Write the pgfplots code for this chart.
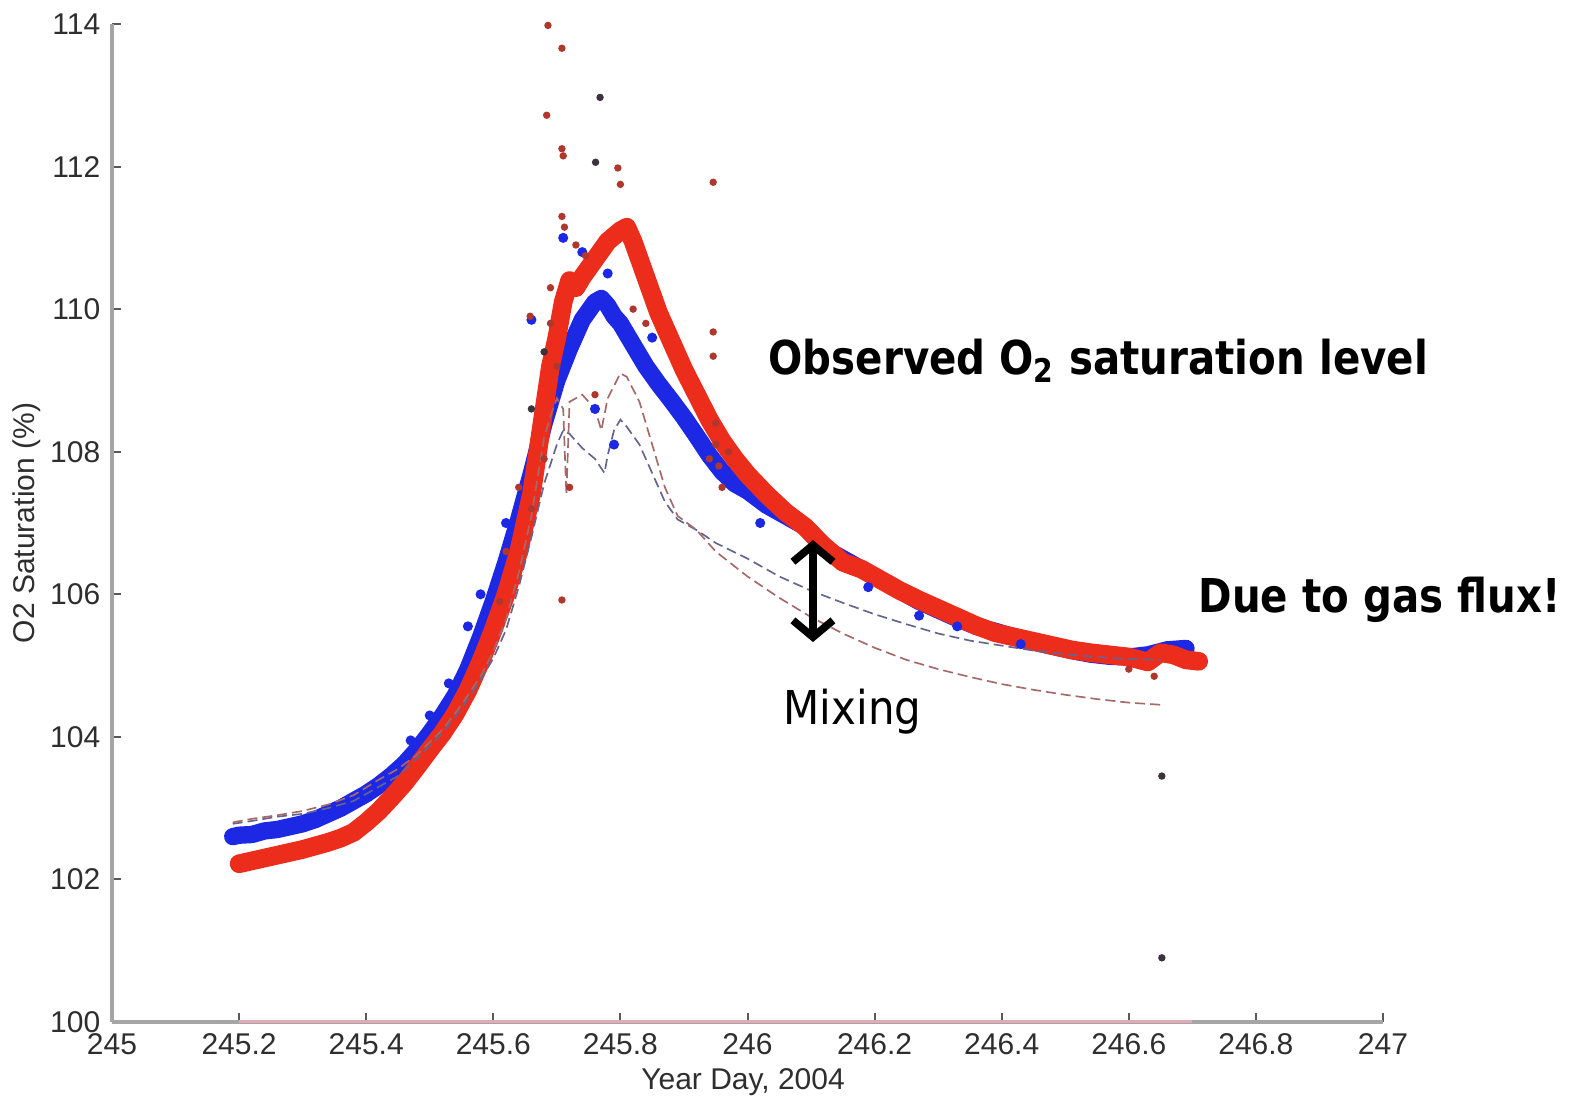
\documentclass[border=0pt]{standalone}
\usepackage{pgfplots}
\pgfplotsset{compat=1.18}
\usepackage{fontspec}
\usepackage{graphicx}
\setmainfont{Liberation Sans}
\newfontfamily\dvs{DejaVu Sans}
\usetikzlibrary{arrows.meta}
\definecolor{obsred}{RGB}{236,45,28}
\definecolor{obsblue}{RGB}{28,40,228}
\definecolor{outred}{RGB}{175,55,45}
\definecolor{outdark}{RGB}{60,50,60}
\definecolor{modblue}{RGB}{100,100,145}
\definecolor{modred}{RGB}{165,105,105}
\definecolor{axgray}{RGB}{165,165,165}

\pgfplotstableread{
x y
245.19 102.60
245.20 102.62
245.22 102.63
245.24 102.68
245.26 102.70
245.28 102.74
245.30 102.78
245.32 102.84
245.34 102.92
245.36 103.00
245.38 103.10
245.40 103.20
245.42 103.32
245.44 103.46
245.46 103.62
245.48 103.82
245.50 104.05
245.52 104.30
245.54 104.58
245.56 104.95
245.58 105.40
245.60 105.90
245.62 106.45
245.64 107.05
245.66 107.70
245.68 108.40
245.70 109.00
245.72 109.45
245.74 109.85
245.76 110.10
245.77 110.15
245.78 110.05
245.79 109.90
245.80 109.80
245.82 109.50
245.84 109.20
245.86 108.95
245.88 108.72
245.90 108.48
245.92 108.22
245.94 107.95
245.96 107.72
245.98 107.55
246.00 107.45
246.03 107.25
246.06 107.10
246.09 106.95
246.12 106.65
246.15 106.50
246.18 106.35
246.21 106.20
246.24 106.05
246.27 105.90
246.30 105.78
246.33 105.66
246.36 105.55
246.39 105.48
246.42 105.40
246.45 105.33
246.48 105.27
246.51 105.21
246.54 105.16
246.57 105.13
246.60 105.12
246.63 105.15
246.66 105.22
246.69 105.24
}\blueobs

\pgfplotstableread{
x y
245.20 102.22
245.22 102.26
245.24 102.30
245.26 102.34
245.28 102.38
245.30 102.42
245.32 102.47
245.34 102.52
245.36 102.58
245.38 102.66
245.40 102.80
245.42 102.96
245.44 103.15
245.46 103.35
245.48 103.58
245.50 103.82
245.52 104.05
245.54 104.32
245.56 104.65
245.58 105.05
245.60 105.50
245.62 106.00
245.64 106.60
245.66 107.40
245.67 108.00
245.68 108.60
245.69 109.20
245.70 109.60
245.71 110.10
245.72 110.40
245.73 110.30
245.74 110.45
245.76 110.70
245.78 110.95
245.80 111.10
245.81 111.15
245.82 110.95
245.83 110.70
245.84 110.45
245.85 110.20
245.86 109.95
245.88 109.55
245.90 109.15
245.92 108.80
245.94 108.45
245.96 108.15
245.98 107.90
246.00 107.68
246.03 107.40
246.06 107.15
246.09 106.95
246.12 106.68
246.15 106.45
246.18 106.35
246.21 106.20
246.24 106.05
246.27 105.92
246.30 105.80
246.33 105.68
246.36 105.56
246.39 105.46
246.42 105.40
246.45 105.34
246.48 105.28
246.51 105.22
246.54 105.18
246.57 105.15
246.60 105.12
246.63 105.05
246.65 105.18
246.67 105.15
246.69 105.08
246.71 105.06
}\redobs

\pgfplotstableread{
x y
245.19 102.78
245.22 102.82
245.26 102.88
245.30 102.92
245.34 103.00
245.38 103.10
245.42 103.30
245.45 103.45
245.48 103.70
245.52 104.05
245.55 104.40
245.58 104.80
245.60 105.10
245.62 105.50
245.64 106.10
245.66 106.80
245.68 107.55
245.70 108.10
245.71 108.30
245.72 108.25
245.74 108.05
245.76 107.90
245.775 107.70
245.78 107.95
245.79 108.30
245.80 108.45
245.81 108.35
245.83 108.10
245.85 107.70
245.87 107.30
245.89 107.05
245.92 106.90
245.95 106.72
246.00 106.50
246.05 106.25
246.10 106.05
246.15 105.88
246.20 105.72
246.25 105.58
246.30 105.45
246.35 105.35
246.40 105.28
246.45 105.21
246.50 105.16
246.55 105.12
246.60 105.09
246.65 105.08
}\bluemod

\pgfplotstableread{
x y
245.19 102.80
245.22 102.85
245.26 102.90
245.30 102.96
245.34 103.05
245.38 103.18
245.42 103.40
245.45 103.55
245.48 103.75
245.52 104.10
245.55 104.45
245.58 104.85
245.60 105.20
245.62 105.65
245.64 106.30
245.66 107.10
245.68 108.20
245.69 108.50
245.70 108.75
245.71 108.60
245.715 107.40
245.72 108.70
245.74 108.80
245.76 108.60
245.77 108.30
245.78 108.75
245.80 109.10
245.81 109.05
245.83 108.70
245.85 108.10
245.87 107.50
245.89 107.10
245.92 106.90
245.95 106.60
246.00 106.25
246.05 105.95
246.10 105.68
246.15 105.45
246.20 105.25
246.25 105.08
246.30 104.95
246.35 104.84
246.40 104.74
246.45 104.66
246.50 104.59
246.55 104.53
246.60 104.48
246.65 104.45
}\redmod

\pgfplotstableread{
x y
245.686 113.98
245.708 113.66
245.684 112.72
245.708 112.25
245.710 112.15
245.708 111.30
245.712 111.15
245.796 111.98
245.800 111.75
245.946 111.78
245.946 109.68
245.946 109.34
245.708 105.92
245.658 109.90
245.690 110.30
245.690 109.80
245.700 109.20
245.730 110.90
245.745 110.75
245.820 110.00
245.840 109.80
245.760 108.80
245.720 107.50
245.680 107.90
245.660 107.20
245.620 106.60
245.610 105.90
245.640 107.50
245.950 108.40
245.950 108.10
245.955 107.80
245.970 108.00
245.940 107.90
245.960 107.50
246.600 104.95
246.640 104.85
}\redout

\pgfplotstableread{
x y
245.768 112.97
245.761 112.06
246.652 103.45
246.652 100.90
245.660 108.60
245.680 109.40
}\darkout

\pgfplotstableread{
x y
245.710 111.00
245.660 109.85
245.580 106.00
245.560 105.55
245.740 110.80
245.780 110.50
245.620 107.00
245.850 109.60
245.790 108.10
245.760 108.60
246.430 105.30
246.020 107.00
245.500 104.30
245.530 104.75
245.470 103.95
246.270 105.70
246.330 105.55
246.190 106.10
}\blueout

\begin{document}
\begin{tikzpicture}
\path[use as bounding box] (-33.6pt,-25.5pt) rectangle (438.6pt,306.6pt);
\begin{axis}[
  scale only axis,
  width=381.3pt, height=299.4pt,
  xmin=245, xmax=247, ymin=100, ymax=114,
  axis x line*=bottom, axis y line*=left,
  axis line style={draw=axgray, line width=1pt, -},
  tick align=inside,
  major tick length=2.6pt,
  tick style={draw=black!65, line width=0.6pt},
  xtick={245,245.2,245.4,245.6,245.8,246,246.2,246.4,246.6,246.8,247},
  xticklabels={245,245.2,245.4,245.6,245.8,246,246.2,246.4,246.6,246.8,247},
  ytick={100,102,104,106,108,110,112,114},
  yticklabels={100,102,104,106,108,110,112,114},
  ticklabel style={font=\fontsize{9}{10}\selectfont, text=black!82},
  /pgf/number format/assume math mode=true,
  xlabel={Year Day, 2004},
  ylabel={O2 Saturation (\%)},
  every axis x label/.style={at={(axis description cs:0.4965,-0.0601)}, anchor=center, font=\fontsize{9}{10}\selectfont, text=black!82},
  every axis y label/.style={at={(axis description cs:-0.0669,0.5)}, rotate=90, anchor=center, font=\fontsize{9}{10}\selectfont, text=black!82},
  clip=false,
]
\addplot[color={rgb,255:red,225;green,170;blue,182}, line width=0.9pt] coordinates {(245.2,100) (246.7,100)};
\addplot[obsblue, line width=5.2pt, line join=round, line cap=round, mark=none] table {\blueobs};
\addplot[only marks, obsblue, mark=*, mark size=1.3pt] table {\blueout};
\addplot[obsred, line width=5.6pt, line join=round, line cap=round, mark=none] table {\redobs};
\addplot[only marks, outred, mark=*, mark size=0.9pt] table {\redout};
\addplot[only marks, outdark, mark=*, mark size=0.9pt] table {\darkout};
\addplot[modblue, line width=0.5pt, dash pattern=on 3pt off 1.5pt] table {\bluemod};
\addplot[modred, line width=0.5pt, dash pattern=on 3pt off 1.5pt] table {\redmod};
\draw[line width=2.3pt, {Straight Barb[length=5pt,width=12pt]}-{Straight Barb[length=5pt,width=12pt]}] (axis cs:246.103,106.76) -- (axis cs:246.103,105.33);
\node[anchor=west, inner sep=0pt] at (axis cs:246.032,109.28) {\scalebox{0.865}[1]{\dvs\bfseries\fontsize{14}{16}\selectfont Observed O\textsubscript{2} saturation level}};
\node[anchor=west, inner sep=0pt] at (axis cs:246.709,105.92) {\scalebox{0.865}[1]{\dvs\bfseries\fontsize{14}{16}\selectfont Due to gas flux!}};
\node[anchor=west, inner sep=0pt] at (axis cs:246.056,104.36) {\scalebox{0.9}[1]{\dvs\fontsize{14}{16}\selectfont Mixing}};
\end{axis}
\end{tikzpicture}
\end{document}
